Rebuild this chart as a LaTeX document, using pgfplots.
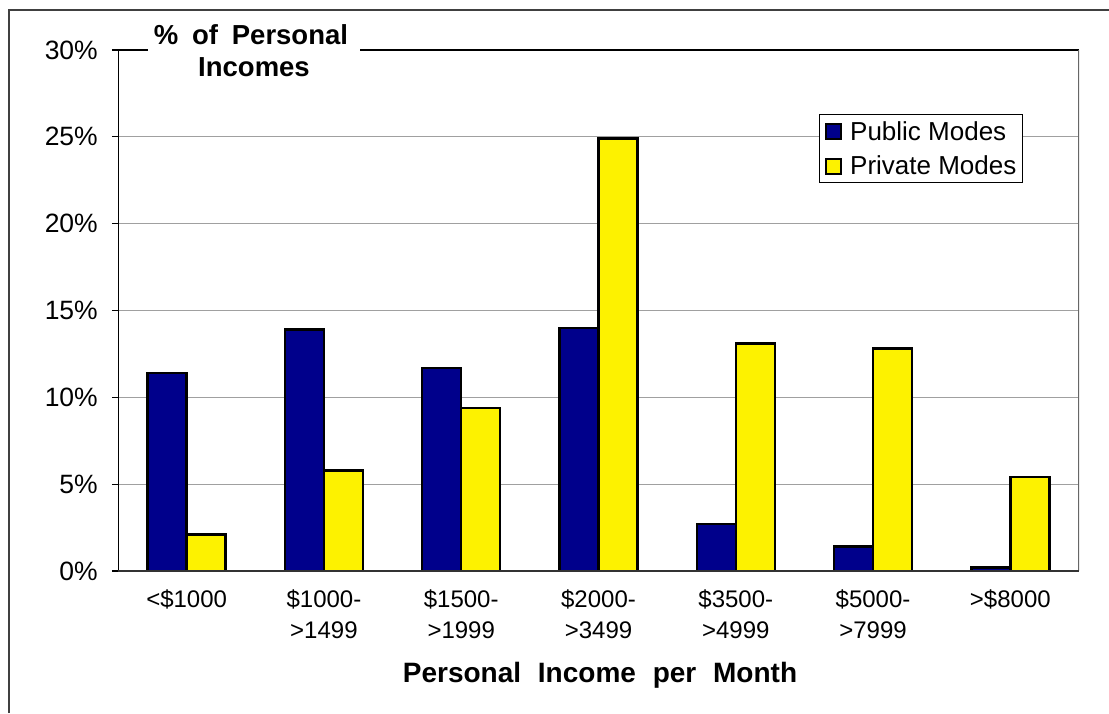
\documentclass[border=0pt]{standalone}
\usepackage{fontspec}
\setmainfont{Liberation Sans}
\usepackage{pgfplots}
\pgfplotsset{compat=1.18}
\definecolor{navybar}{RGB}{0,0,139}
\definecolor{yellowbar}{RGB}{253,242,0}
\definecolor{gridgray}{RGB}{160,160,160}

\begin{document}
\begin{tikzpicture}[x=1pt,y=1pt]
\path[use as bounding box] (0,0) rectangle (1109,713);
% outer chart frame
\draw[line width=1.8pt, black!75] (9,0) -- (9,703) -- (1109,703);
\begin{axis}[
  at={(118pt,142pt)}, anchor=south west,
  scale only axis, width=961pt, height=521pt,
  xmin=-0.5, xmax=6.5, ymin=0, ymax=30,
  ybar, bar width=39pt,
  axis line style={draw=none},
  xtick={0,...,6},
  xticklabels={{<\$1000},{\$1000-\\>1499},{\$1500-\\>1999},{\$2000-\\>3499},{\$3500-\\>4999},{\$5000-\\>7999},{>\$8000}},
  ytick={0,5,10,15,20,25,30},
  yticklabels={0\%,5\%,10\%,15\%,20\%,25\%,30\%},
  xticklabel style={font=\fontsize{24}{31}\selectfont, align=center, anchor=north, inner sep=0pt, yshift=-13pt},
  yticklabel style={font=\fontsize{26.5}{31}\selectfont, anchor=east, inner sep=0pt, xshift=-14pt},
  xtick style={draw=none},
  ytick pos=left,
  tick align=outside, major tick length=6pt,
  ytick style={black, line width=1.3pt},
  ymajorgrids, grid style={gridgray, line width=1.3pt},
  legend style={at={(0.9417,0.877)}, anchor=north east, draw=black, line width=1.2pt,
    fill=white, font=\fontsize{26}{30}\selectfont, inner xsep=6pt, inner ysep=6.5pt,
    row sep=14.5pt, column sep=8pt, nodes={inner sep=0pt},
    legend cell align=left},
  legend image code/.code={\draw[#1, line width=1.8pt] (0pt,-8pt) rectangle (15pt,7pt);},
]
\addplot[fill=navybar, draw=black, line width=2.5pt, bar shift=-19.5pt]
  coordinates {(0,11.4) (1,13.9) (2,11.7) (3,14.0) (4,2.7) (5,1.4) (6,0.2)};
\addplot[fill=yellowbar, draw=black, line width=2.5pt, bar shift=19.5pt]
  coordinates {(0,2.1) (1,5.8) (2,9.4) (3,24.9) (4,13.1) (5,12.8) (6,5.4)};
\legend{Public Modes, Private Modes}
% plot area border
\draw[black, line width=1.5pt] (rel axis cs:0,0) -- (rel axis cs:0,1) -- (rel axis cs:1,1);
\draw[black!60, line width=1.5pt] (rel axis cs:1,1) -- (rel axis cs:1,0);
\draw[black!80, line width=2pt] (rel axis cs:0,0) -- (rel axis cs:1,0);
\end{axis}
% value-axis title sitting on the top border
\fill[white] (148,655) rectangle (360,671);
\node[anchor=base, inner sep=0pt, font=\bfseries\fontsize{27.5}{32}\selectfont] at (251,668.7) {\%\hspace{0.5em}of\hspace{0.5em}Personal};
\node[anchor=base, inner sep=0pt, font=\bfseries\fontsize{27.5}{32}\selectfont] at (254,636.3) {Incomes};
% category-axis title
\node[anchor=base, inner sep=0pt, font=\bfseries\fontsize{28}{32}\selectfont] at (600,31) {Personal\hspace{0.6em}Income\hspace{0.6em}per\hspace{0.6em}Month};
\end{tikzpicture}
\end{document}
